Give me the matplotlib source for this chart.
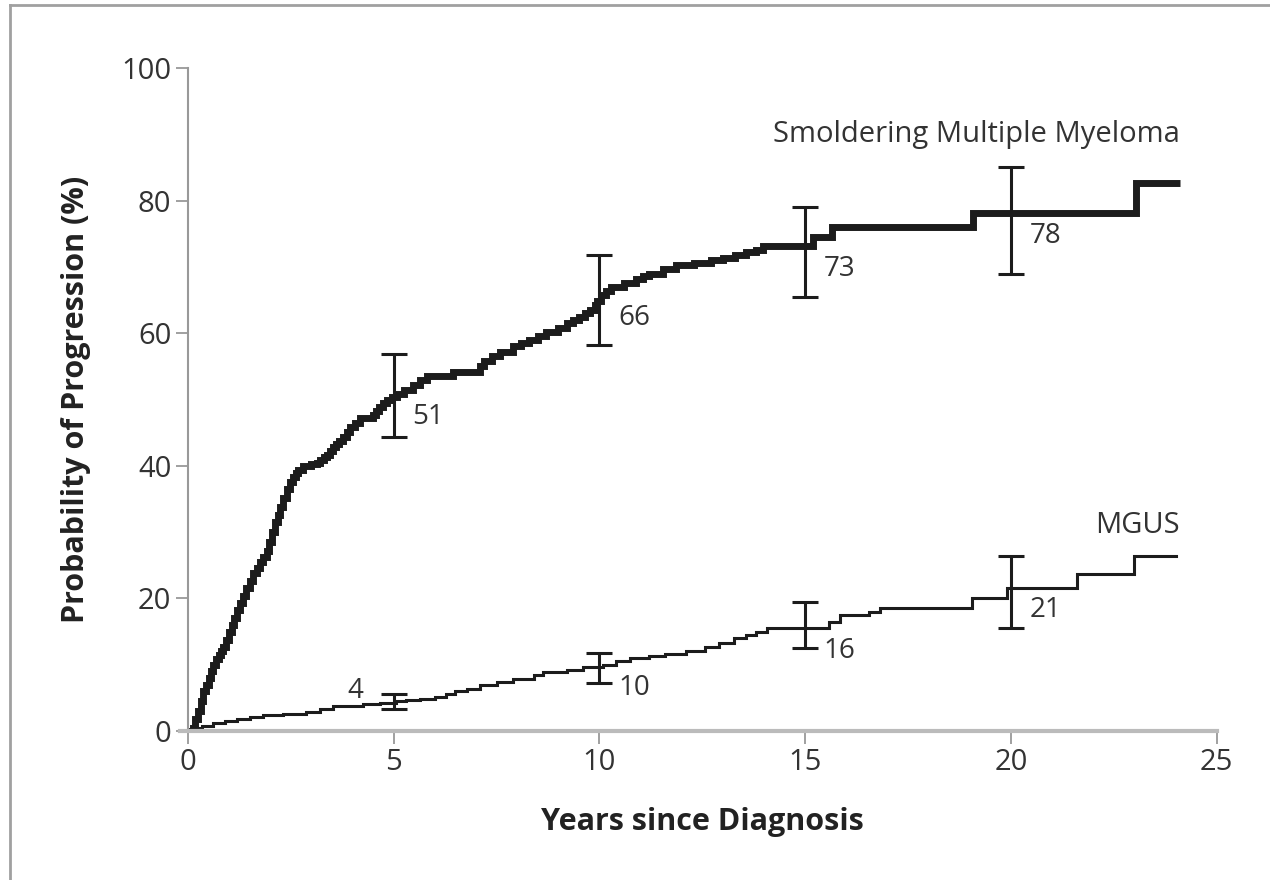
import matplotlib
matplotlib.use("Agg")
import matplotlib.pyplot as plt
from matplotlib.lines import Line2D

# Kaplan-Meier style step data (years, % progressed)
smm_years = [0, 0.12, 0.18, 0.25, 0.31, 0.37, 0.44, 0.5, 0.56, 0.62, 0.69, 0.75,
             0.81, 0.86, 0.93, 1.0, 1.06, 1.12, 1.19, 1.26, 1.33, 1.4, 1.5,
             1.59, 1.67, 1.75, 1.83, 1.91, 1.98, 2.05, 2.12, 2.18, 2.24, 2.32,
             2.4, 2.48, 2.56, 2.62, 2.68, 2.8, 3.0, 3.13, 3.22, 3.3, 3.38,
             3.45, 3.52, 3.6, 3.68, 3.77, 3.86, 3.95, 4.05, 4.18, 4.5, 4.58,
             4.65, 4.74, 4.83, 4.95, 5.07, 5.25, 5.47, 5.65, 5.8, 6.45, 7.1,
             7.2, 7.4, 7.58, 7.9, 8.1, 8.3, 8.5, 8.71, 9.0, 9.2, 9.35, 9.5,
             9.65, 9.77, 9.88, 9.95, 10.05, 10.15, 10.28, 10.6, 10.9, 11.05,
             11.2, 11.55, 11.87, 12.3, 12.7, 13.0, 13.3, 13.55, 13.8, 13.97,
             15.2, 15.64, 19.07, 23.05, 24.1]
smm_prob = [0, 0.5, 1.8, 3, 4.5, 6, 7, 8, 9, 10, 10.8, 11.5,
            12.1, 12.7, 13.8, 15, 16, 17, 18.2, 19.3, 20.4, 21.5, 22.7,
            23.8, 24.6, 25.5, 26.3, 27.1, 28.5, 30, 31.5, 32.6, 33.8, 35.2,
            36.5, 37.5, 38.3, 38.9, 39.3, 40.0, 40.2, 40.5, 40.9, 41.3, 41.7,
            42.2, 42.8, 43.3, 43.8, 44.4, 45.1, 45.8, 46.5, 47.2, 47.7, 48.3,
            48.9, 49.4, 49.9, 50.4, 50.8, 51.5, 52.2, 53.0, 53.6, 54.2, 55.0,
            55.8, 56.5, 57.2, 58.0, 58.5, 59.0, 59.6, 60.2, 60.8, 61.5, 62.0, 62.5,
            63.0, 63.5, 64.2, 64.8, 65.8, 66.4, 67.0, 67.5, 68.2, 68.6,
            69.0, 69.7, 70.3, 70.6, 71.0, 71.4, 71.8, 72.2, 72.5, 73.2,
            74.5, 76.0, 78.2, 82.6, 82.6]

mgus_years = [0, 0.13, 0.35, 0.62, 0.9, 1.2, 1.5, 1.83, 2.3, 2.88, 3.2, 3.53,
              4.26, 4.66, 5.05, 5.3, 5.64, 6.0, 6.28, 6.5, 6.77, 7.1, 7.5, 7.9,
              8.4, 8.63, 9.2, 9.6, 10.09, 10.4, 10.74, 11.2, 11.6, 12.1, 12.56,
              12.9, 13.26, 13.55, 13.8, 14.07, 15.58, 15.85, 16.56, 16.83,
              19.05, 19.9, 21.6, 23.0, 24.0]
mgus_prob = [0, 0.4, 0.8, 1.15, 1.5, 1.8, 2.1, 2.4, 2.6, 2.9, 3.3, 3.7,
             4.0, 4.3, 4.5, 4.7, 4.9, 5.2, 5.6, 6.0, 6.4, 6.9, 7.4, 7.8,
             8.4, 8.9, 9.2, 9.6, 10.0, 10.5, 11.0, 11.3, 11.6, 12.0, 12.7,
             13.3, 14.0, 14.5, 15.0, 15.5, 16.5, 17.5, 18.0, 18.5,
             20.0, 21.5, 23.7, 26.4, 26.4]

# confidence intervals at 5, 10, 15, 20 years
ci_years = [5, 10, 15, 20]
smm_point = [51, 66, 73, 78]
smm_lo = [44.4, 58.2, 65.5, 68.9]
smm_hi = [56.9, 71.8, 79.1, 85.1]
smm_mid = [50.8, 65.8, 73.2, 78.2]
mgus_point = [4, 10, 16, 21]
mgus_lo = [3.3, 7.2, 12.5, 15.6]
mgus_hi = [5.6, 11.7, 19.5, 26.4]
mgus_mid = [4.5, 10.0, 15.5, 21.5]

plt.rcParams['font.family'] = ['Open Sans', 'DejaVu Sans']

ink = '#1c1c1c'
txt = '#333333'
fig = plt.figure(figsize=(12.7, 8.8), dpi=100)
ax = fig.add_axes([0.148, 0.1693, 0.810, 0.7534])

ax.step(smm_years, smm_prob, where='post', color=ink, lw=5.0,
        solid_joinstyle='miter', solid_capstyle='butt')
ax.step(mgus_years, mgus_prob, where='post', color=ink, lw=2.2,
        solid_joinstyle='miter')

for mid, lo, hi in [(smm_mid, smm_lo, smm_hi), (mgus_mid, mgus_lo, mgus_hi)]:
    yerr = [[m - l for m, l in zip(mid, lo)], [h - m for m, h in zip(mid, hi)]]
    ax.errorbar(ci_years, mid, yerr=yerr, fmt='none', ecolor=ink,
                elinewidth=2.2, capsize=9.5, capthick=2.2)

# numbers next to the bars
for x, m, v in zip(ci_years, smm_mid, smm_point):
    ax.text(x + 0.45, m - 3.5, str(v), fontsize=20, color=txt,
            ha='left', va='center')
mg_dx = [-0.75, 0.45, 0.45, 0.45]
mg_dy = [1.5, -3.5, -3.5, -3.2]
for x, m, v, dx, dy in zip(ci_years, mgus_mid, mgus_point, mg_dx, mg_dy):
    ax.text(x + dx, m + dy, str(v), fontsize=20, color=txt,
            ha='left' if dx > 0 else 'right', va='center')

ax.text(24.1, 90.0, 'Smoldering Multiple Myeloma', fontsize=21, color=txt,
        ha='right', va='center')
ax.text(24.1, 31.0, 'MGUS', fontsize=21, color=txt, ha='right', va='center')

ax.set_xlim(0, 25)
ax.set_ylim(0, 100)
ax.set_xticks([0, 5, 10, 15, 20, 25])
ax.set_yticks([0, 20, 40, 60, 80, 100])
ax.tick_params(axis='both', colors='#999999', labelcolor=txt,
               labelsize=21, length=9, width=1.3)
ax.tick_params(axis='x', pad=3)
ax.tick_params(axis='y', pad=3)
for s in ['top', 'right']:
    ax.spines[s].set_visible(False)
ax.spines['left'].set_color('#999999')
ax.spines['left'].set_linewidth(1.5)
ax.spines['bottom'].set_color('#bbbbbb')
ax.spines['bottom'].set_linewidth(3)
ax.spines['bottom'].set_bounds(-0.2, 25)

ax.set_xlabel('Years since Diagnosis', fontsize=22, fontweight='bold',
              color='#222222', labelpad=22)
ax.set_ylabel('Probability of Progression (%)', fontsize=22, fontweight='bold',
              color='#222222', labelpad=22)

# frame lines (top and left edge of the panel)
fig.add_artist(Line2D([10 / 1270, 10 / 1270], [0, 1 - 5 / 880], transform=fig.transFigure,
                      color='#a0a0a0', lw=2))
fig.add_artist(Line2D([10 / 1270, 1], [1 - 5 / 880, 1 - 5 / 880], transform=fig.transFigure,
                      color='#a0a0a0', lw=2))

fig.savefig('out.png', dpi=100)
